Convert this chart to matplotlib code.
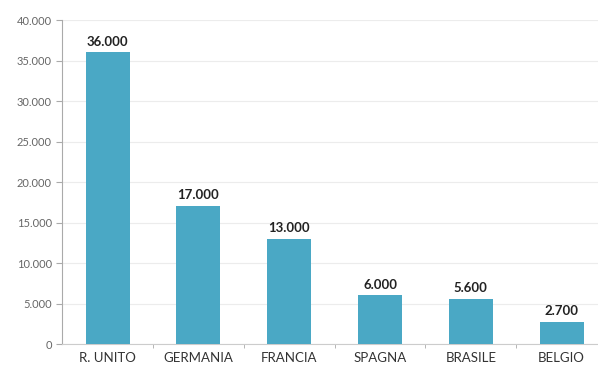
import matplotlib.pyplot as plt
from matplotlib.ticker import FuncFormatter
import numpy as np

paesi = ['R. UNITO', 'GERMANIA', 'FRANCIA', 'SPAGNA', 'BRASILE', 'BELGIO']
valori = [36000, 17000, 13000, 6000, 5600, 2700]

plt.rcParams['font.family'] = ['Lato', 'DejaVu Sans']

fig = plt.figure(figsize=(5.98, 3.65), dpi=100)
ax = fig.add_axes([0.104, 0.0575, 0.896, 0.8875])

x = np.arange(len(paesi))
bars = ax.bar(x, valori, width=0.485, color='#4aa8c5', zorder=3)

def fmt(v, pos=None):
    return f'{int(v):,}'.replace(',', '.')

for b, v in zip(bars, valori):
    ax.text(b.get_x() + b.get_width() / 2, v + 600, fmt(v), ha='center', va='bottom',
            fontsize=9.5, fontweight='bold', color='#222222')

ax.set_xlim(-0.5, 5.4)
ax.set_ylim(0, 40000)
ax.set_yticks(range(0, 40001, 5000))
ax.yaxis.set_major_formatter(FuncFormatter(fmt))
ax.set_xticks(x)
ax.set_xticklabels(paesi)
ax.set_xticks(np.arange(0.5, len(paesi) - 1, 1), minor=True)

ax.grid(axis='y', color='#ececec', linewidth=0.8, zorder=0)
for s in ['top', 'right']:
    ax.spines[s].set_visible(False)
ax.spines['left'].set_color('#aaaaaa')
ax.spines['bottom'].set_color('#cccccc')
ax.tick_params(axis='y', colors='#aaaaaa', labelcolor='#666666', labelsize=8, length=4)
ax.tick_params(axis='x', which='major', length=0, labelsize=9.5, labelcolor='#333333', pad=6)
ax.tick_params(axis='x', which='minor', length=3, color='#aaaaaa')

fig.savefig('out.png', dpi=100)
